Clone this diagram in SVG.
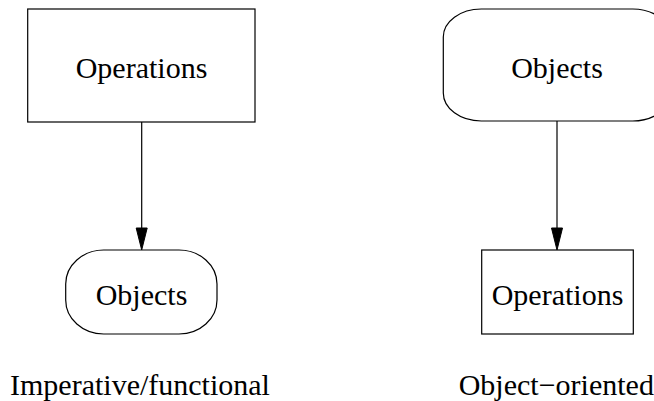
<svg xmlns="http://www.w3.org/2000/svg" width="654" height="401" viewBox="0 0 654 401">
<defs>
<style>
.shape{fill:#fff;stroke:#000;stroke-width:1.2}
.lbl{font-family:"Liberation Serif","Times New Roman",serif;font-size:30px;fill:#000;text-anchor:middle}
.edge{stroke:#000;stroke-width:1.2;fill:none}
.head{fill:#000;stroke:#000;stroke-width:1}
</style>
</defs>
<rect width="654" height="401" fill="#fff"/>
<g id="connectors">
<line class="edge" x1="141.7" y1="122" x2="141.7" y2="229"/>
<polygon class="head" points="136.2,228 147.2,228 141.7,250"/>
<line class="edge" x1="557" y1="121" x2="557" y2="229"/>
<polygon class="head" points="551.5,228 562.5,228 557,250"/>
</g>
<g id="left-operations">
<rect class="shape" x="27.7" y="9" width="227.3" height="113"/>
<text class="lbl" x="141.5" y="78">Operations</text>
</g>
<g id="left-objects">
<rect class="shape" x="65.7" y="250" width="151.3" height="84" rx="38" ry="34"/>
<text class="lbl" x="141.5" y="305">Objects</text>
</g>
<g id="right-objects">
<rect class="shape" x="443.3" y="9" width="227.4" height="112" rx="38" ry="28"/>
<text class="lbl" x="557" y="78">Objects</text>
</g>
<g id="right-operations">
<rect class="shape" x="481.7" y="250" width="151.6" height="84"/>
<text class="lbl" x="557.5" y="305">Operations</text>
</g>
<text id="caption-left" class="lbl" x="140" y="395">Imperative/functional</text>
<text id="caption-right" class="lbl" x="556.3" y="395">Object−oriented</text>
</svg>
